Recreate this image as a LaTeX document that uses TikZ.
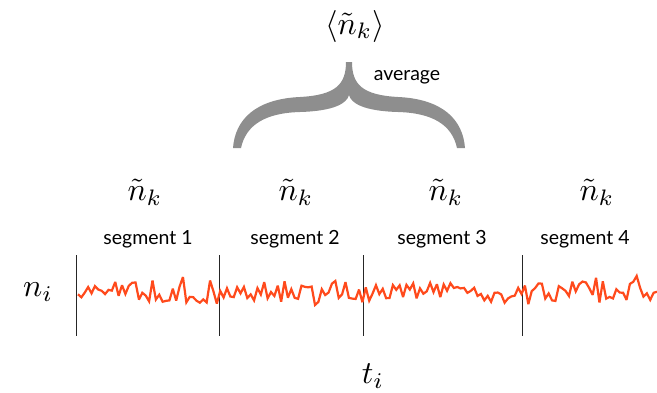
\documentclass[tikz,border=0pt]{standalone}
\usepackage{fontspec}
\newfontfamily\gill{Lato}
\definecolor{sig}{HTML}{FF4A1C}
\definecolor{bracegray}{HTML}{8E8E8E}
\newcommand{\bigmath}[1]{\scalebox{3.2}{$#1$}}
\begin{document}
\begin{tikzpicture}[x=1pt,y=-1pt,
  mathlbl/.style={inner sep=0pt},
  seglbl/.style={inner sep=0pt, font=\gill\fontsize{19.5}{22}\selectfont},
  divider/.style={line width=0.9pt, black!85},
  signal/.style={line width=2.2pt, sig, line join=miter, miter limit=3}]
\useasboundingbox (0,0) rectangle (657,392);
% top labels
\node[mathlbl] (avg) at (355,26) {\bigmath{\langle\tilde n_k\rangle}};
\node[seglbl] (avgtxt) at (407,77) {average};
% brace
\fill[bracegray] (346,62) -- (352,62)
  .. controls (352,85) and (363,95) .. (398,97)
  .. controls (443,99) and (463,120) .. (465,148)
  -- (457,148)
  .. controls (452,125) and (433,113) .. (398,112)
  .. controls (363,111) and (351,103) .. (349,95)
  .. controls (347,103) and (335,111) .. (300,112)
  .. controls (265,113) and (246,125) .. (241,148)
  -- (233,148)
  .. controls (235,120) and (255,99) .. (300,97)
  .. controls (335,95) and (346,85) .. (346,62) -- cycle;
% segment estimates
\node[mathlbl] (n1) at (145,192) {\bigmath{\tilde n_k}};
\node[mathlbl] (n2) at (296,192) {\bigmath{\tilde n_k}};
\node[mathlbl] (n3) at (446,192) {\bigmath{\tilde n_k}};
\node[mathlbl] (n4) at (597,192) {\bigmath{\tilde n_k}};
\node[seglbl] (s1) at (148,239) {segment 1};
\node[seglbl] (s2) at (295,239) {segment 2};
\node[seglbl] (s3) at (442,239) {segment 3};
\node[seglbl] (s4) at (585,239) {segment 4};
% axes labels
\node[mathlbl] (ni) at (38,292) {\bigmath{n_i}};
\node[mathlbl] (ti) at (373,376) {\bigmath{t_i}};
% dividers
\coordinate (d1t) at (76,255);  \coordinate (d1b) at (76,336);
\coordinate (d2t) at (219,255); \coordinate (d2b) at (219,336);
\coordinate (d3t) at (363,255); \coordinate (d3b) at (363,336);
\coordinate (d4t) at (522,255); \coordinate (d4b) at (522,336);
\draw[divider] (d1t) -- (d1b);
\draw[divider] (d2t) -- (d2b);
\draw[divider] (d3t) -- (d3b);
\draw[divider] (d4t) -- (d4b);
% noisy signal
\pgfmathsetseed{7}
\draw[signal] plot[domain=78:657, samples=172]
  (\x, {292 + 11*rand + 9*rand*rand*rand});
\end{tikzpicture}
\end{document}
